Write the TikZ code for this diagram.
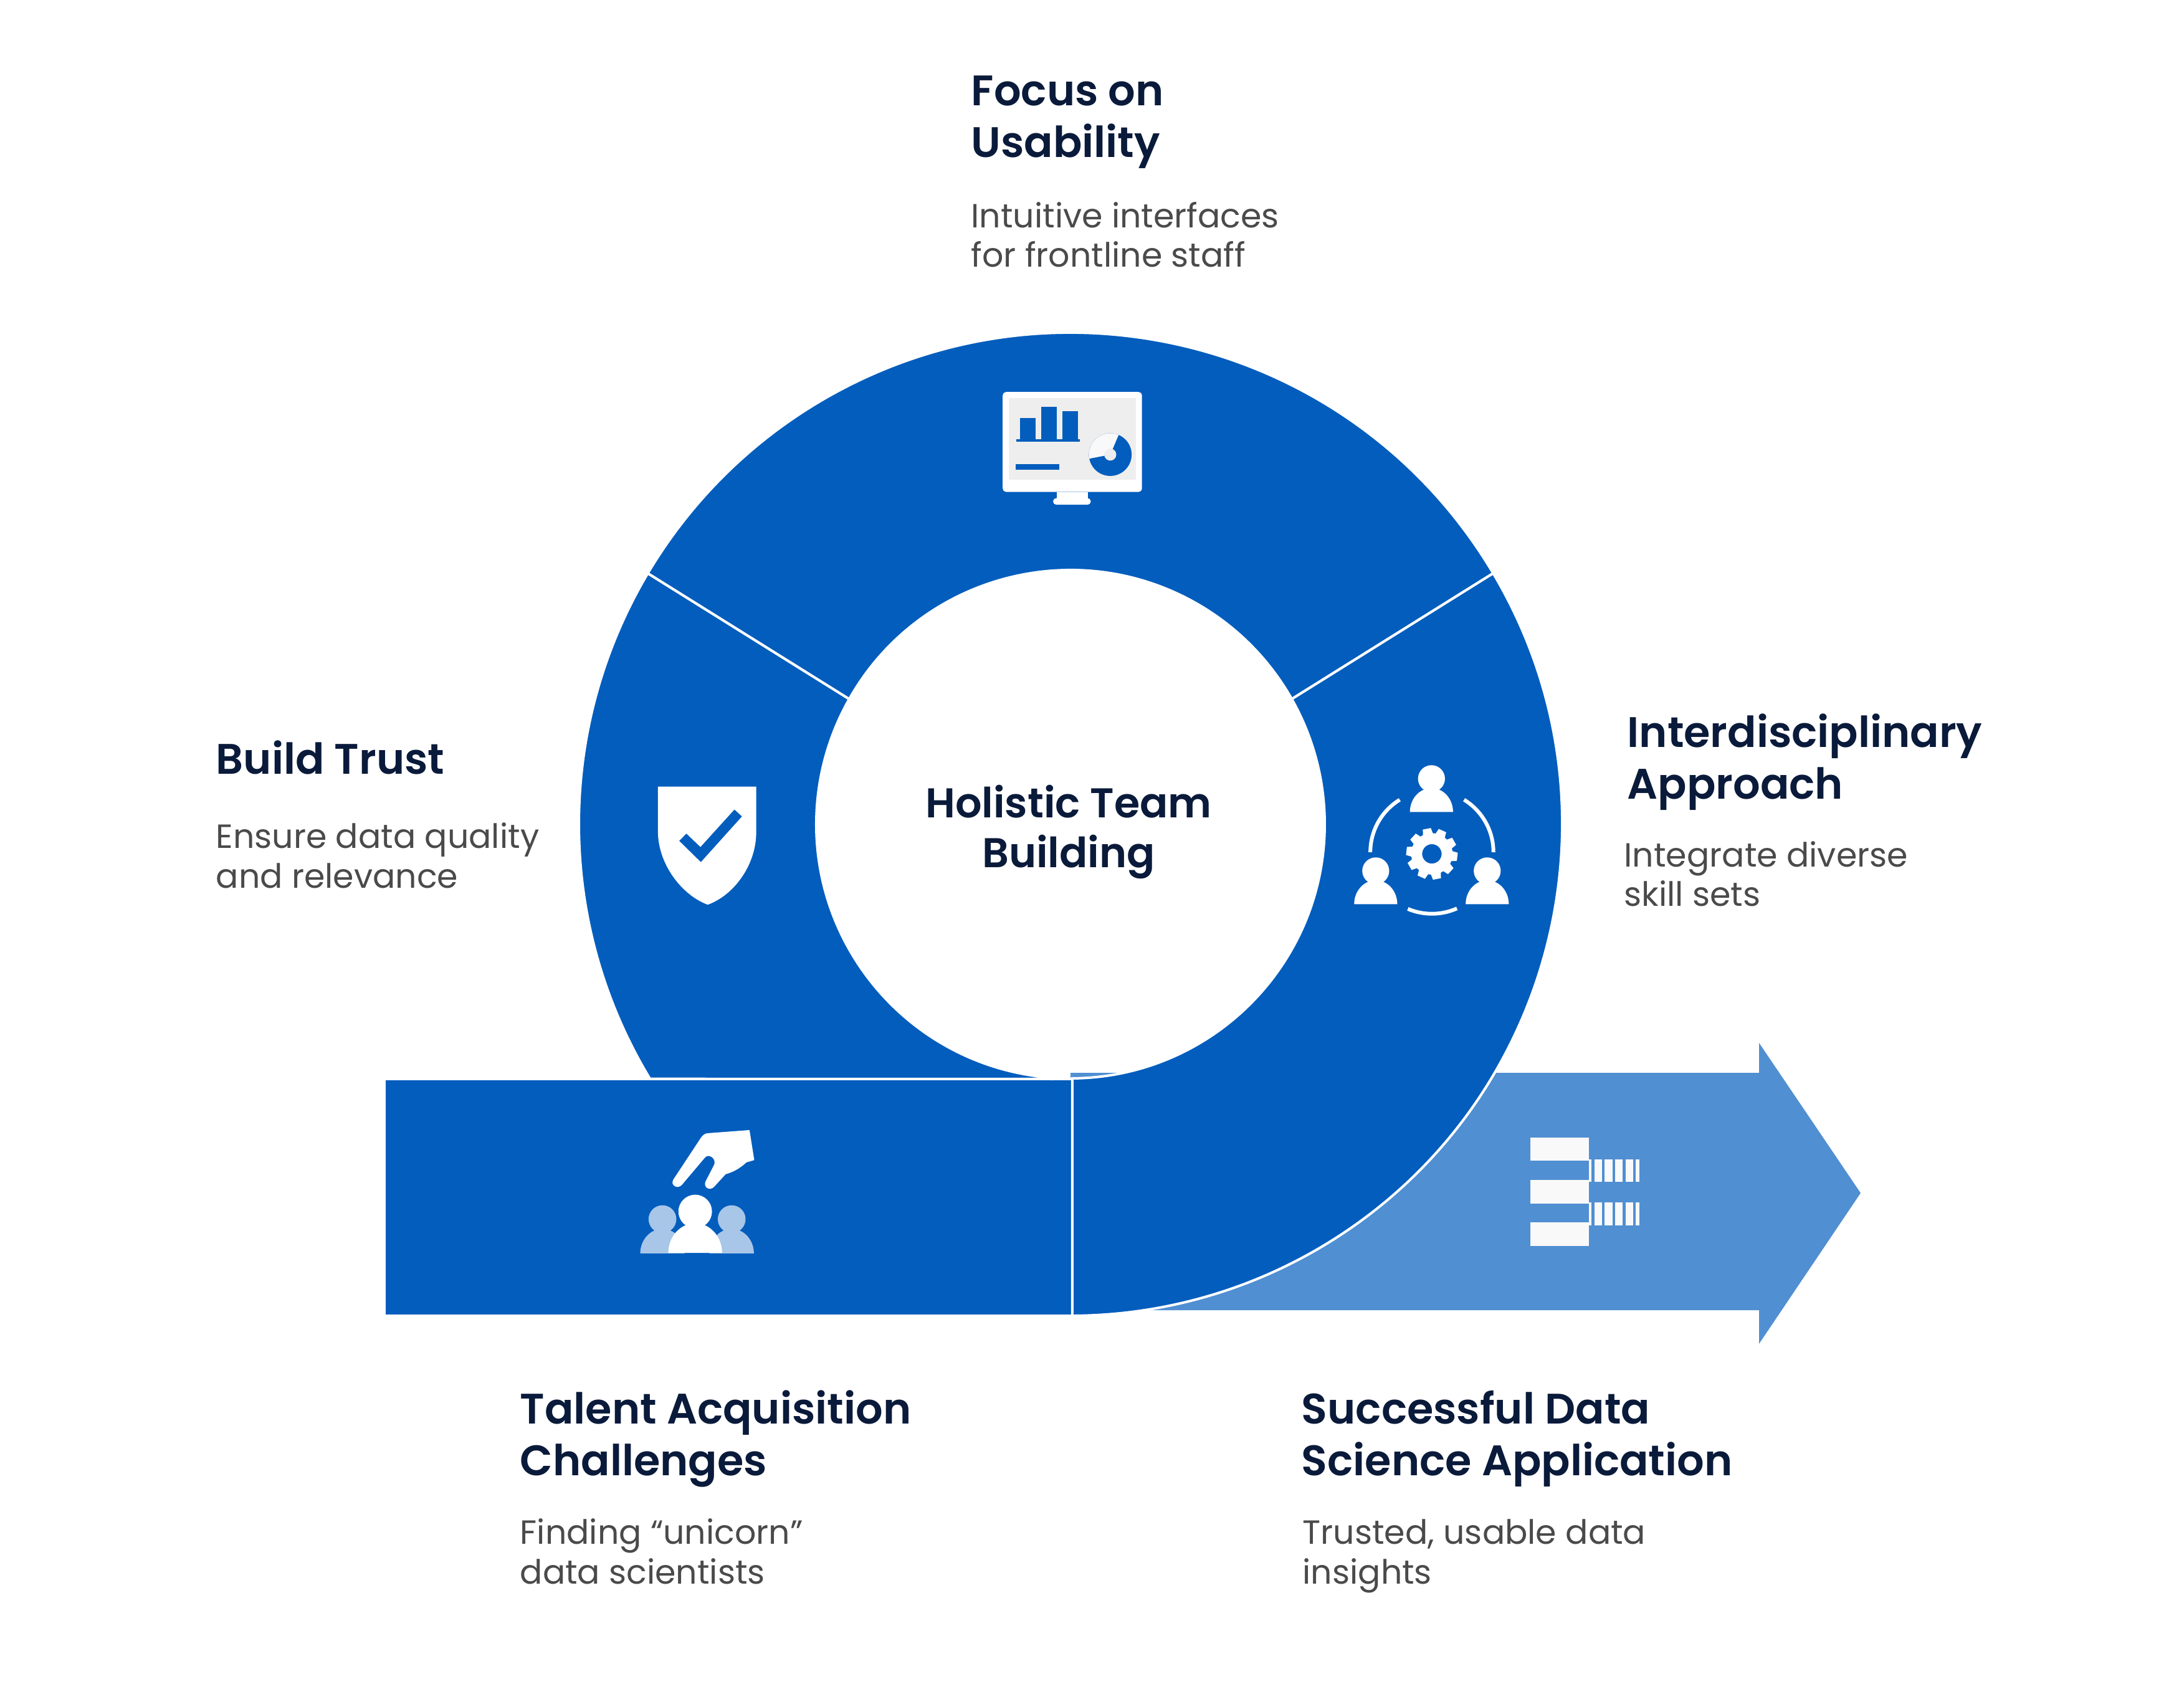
\documentclass[tikz,border=0pt]{standalone}
\usepackage{fontspec}
\setmainfont{Poppins}
\newfontfamily\ttlfont{Poppins SemiBold}
\usetikzlibrary{positioning}
\definecolor{ringclr}{RGB}{3,93,189}
\definecolor{arrclr}{RGB}{80,143,210}
\definecolor{ttlclr}{RGB}{10,26,58}
\definecolor{txtclr}{RGB}{74,74,74}
\definecolor{scrclr}{RGB}{238,238,238}
\definecolor{palclr}{RGB}{249,249,249}
\definecolor{pplclr}{RGB}{168,198,232}
\tikzset{
  %% dark ring pieces and the tail
  seg/.style={fill=ringclr,draw=white,line width=0.04cm},
  %% text above a description
  ttl/.style={font=\ttlfont\fontsize{19.5}{23.7}\selectfont,text=ttlclr,align=left,
    inner sep=0pt,anchor=base west},
  %% description
  desc/.style={font=\fontsize{15.3}{18.2}\selectfont,text=txtclr,align=left,
    inner sep=0pt,anchor=base west},
  hubtxt/.style={font=\ttlfont\fontsize{19}{23}\selectfont,text=ttlclr,align=center,
    inner sep=0pt},
  %% icons are drawn in the units of a 3x crop
  icon/.style={x=0.003333cm,y=-0.003333cm},
}
\newcommand{\persicon}[4]{
  \fill[#1] (#2,#3) circle (#4);
  \fill[#1] (#2-1.6*#4,#3+2.47*#4) arc[start angle=180,end angle=360,x radius=1.6*#4,y radius=1.77*#4] -- cycle;
}
\begin{document}
\begin{tikzpicture}
  \useasboundingbox (-17.18,-14.17) rectangle (17.87,13.23);

  %% arrow behind the ring
  \fill[arrclr] (0,-3.99) -- (11.05,-3.99) -- (11.05,-3.51) -- (12.68,-5.92)
    -- (11.05,-8.34) -- (11.05,-7.80) -- (0,-7.80) -- cycle;

  %% tail and ring
  \path[seg] (-11.01,-4.09) rectangle (0.03,-7.89);
  \path[seg] (149.3:7.89) arc[start angle=149.3,end angle=211.2,radius=7.89]
    -- (-0.3,-4.09) -- (266:4.08) arc[start angle=266,end angle=150.5,radius=4.08] -- cycle;
  \path[seg] (30.7:7.89) arc[start angle=30.7,end angle=149.3,radius=7.89]
    -- (150.5:4.08) arc[start angle=150.5,end angle=29.5,radius=4.08] -- cycle;
  \path[seg] (30.7:7.89) arc[start angle=30.7,end angle=-89.8,radius=7.89]
    -- (-89.6:4.08) arc[start angle=-89.6,end angle=29.5,radius=4.08] -- cycle;

  %% monitor
  \begin{scope}[shift={(-1.68,7.33)},icon]
    \fill[white,rounded corners=1.5pt] (178,118) rectangle (850,600);
    \fill[white] (438,600) rectangle (590,635);
    \fill[white,rounded corners=1.5pt] (421,630) rectangle (603,662);
    \fill[scrclr] (208,148) rectangle (820,540);
    \fill[ringclr] (262,243) rectangle (338,350);
    \fill[ringclr] (363,190) rectangle (439,350);
    \fill[ringclr] (465,210) rectangle (540,350);
    \fill[ringclr] (244,347) rectangle (549,357);
    \fill[ringclr] (240,466) rectangle (450,494);
    \fill[ringclr] (697,420) circle (103);
    \fill[palclr] (697,420) -- ++(-67:103) arc[start angle=-67,end angle=-191,radius=103] -- cycle;
    \fill[scrclr] (697,420) circle (29);
  \end{scope}

  %% team and gear
  \begin{scope}[shift={(4.12,1.33)},icon]
    \persicon{white}{503}{180}{65}
    \persicon{white}{234}{625}{65}
    \persicon{white}{772}{625}{65}
    \draw[white,line width=0.06cm] (505,535) ++(-121.5:297) arc[start angle=-121.5,end angle=-180,radius=297];
    \draw[white,line width=0.06cm] (505,535) ++(-58.5:297) arc[start angle=-58.5,end angle=0,radius=297];
    \draw[white,line width=0.06cm] (505,535) ++(113:297) arc[start angle=113,end angle=66,radius=297];
    \begin{scope}[shift={(505,543)}]
      \fill[white,even odd rule] (6.5-14:100)
        \foreach \a in {0,36,...,324} {
          -- (\a+6.5-14:100) -- (\a+6.5-9:125) -- (\a+6.5+9:125) -- (\a+6.5+14:100)
        } -- cycle (0,0) circle (47);
    \end{scope}
  \end{scope}

  %% shield
  \begin{scope}[shift={(-6.88,0.83)},icon]
    \fill[white] (78,68) -- (552,68) -- (552,290) .. controls (552,440) and (450,590) .. (318,638)
      .. controls (190,590) and (80,440) .. (78,290) -- cycle;
    \fill[ringclr] (215,295) -- (283,360) -- (447,179) -- (483,212) -- (285,432) -- (181,330) -- cycle;
  \end{scope}

  %% hand over people
  \begin{scope}[shift={(-7.38,-4.57)},icon]
    \persicon{pplclr}{250}{532}{67}
    \persicon{pplclr}{584}{532}{67}
    \persicon{white}{408}{495}{81}
    \fill[white] (670,102) -- (693,247) -- (655,258) .. controls (620,290) and (590,305) .. (555,315)
      -- (500,375) .. controls (480,398) and (445,380) .. (458,350) -- (500,268)
      .. controls (510,235) and (470,215) .. (455,235) -- (345,365)
      .. controls (325,390) and (285,370) .. (303,340) -- (435,140)
      .. controls (445,125) and (455,118) .. (470,117) -- cycle;
  \end{scope}

  %% racks on the arrow
  \begin{scope}[shift={(6.82,-4.67)},icon]
    \foreach \y in {108,314,518} {
      \fill[palclr] (167,\y) rectangle (452,\y+112);
    }
    \foreach \y in {212,422} {
      \foreach \xa/\xb in {452/464,477/514,527/564,577/613,627/664,677/695} {
        \fill[palclr] (\xa,\y) rectangle (\xb,\y+111);
      }
    }
  \end{scope}

  %% texts
  \node[hubtxt] (hub) at (-0.03,-0.125) {Holistic Team\\Building};

  \node[ttl] (usab) at (-1.60,10.705) {Focus on\\Usability};
  \node[desc,below=1.765cm of usab.base west,anchor=base west] (usabd) {Intuitive interfaces\\for frontline staff};

  \node[ttl] (trust) at (-13.72,0.805) {Build Trust};
  \node[desc,below=1.83cm of trust.base west,anchor=base west] (trustd) {Ensure data quality\\and relevance};

  \node[ttl] (inter) at (8.93,0.40) {Interdisciplinary\\Approach};
  \node[desc,below=1.72cm of inter.base west,anchor=base west,xshift=-0.05cm] (interd) {Integrate diverse\\skill sets};

  \node[ttl] (talent) at (-8.84,-10.455) {Talent Acquisition\\Challenges};
  \node[desc,below=1.743cm of talent.base west,anchor=base west] (talentd) {Finding “unicorn”\\data scientists};

  \node[ttl] (succ) at (3.70,-10.455) {Successful Data\\Science Application};
  \node[desc,below=1.743cm of succ.base west,anchor=base west,xshift=0.02cm] (succd) {Trusted, usable data\\insights};
\end{tikzpicture}
\end{document}
